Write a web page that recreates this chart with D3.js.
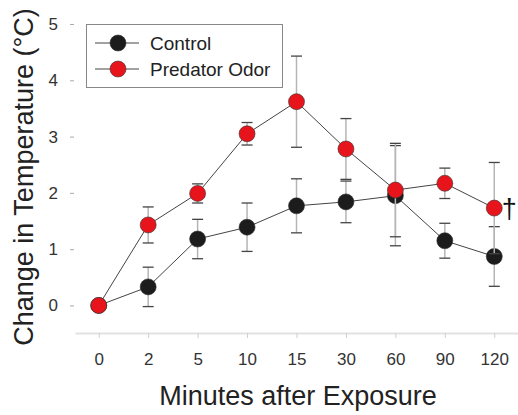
<!DOCTYPE html>
<html>
<head>
<meta charset="utf-8">
<script src="https://cdn.jsdelivr.net/npm/d3@7"></script>
<style>
  body { margin: 0; background: #fff; }
  svg { font-family: "Liberation Sans", Arial, sans-serif; }
</style>
</head>
<body>
<div id="chart"></div>
<script>
// categories (minutes after exposure)
var minutes = ["0", "2", "5", "10", "15", "30", "60", "90", "120"];

// series means and errors
var controlMean = [0, 0.33, 1.18, 1.39, 1.77, 1.84, 1.95, 1.15, 0.87];
var controlErr  = [0, 0.35, 0.35, 0.43, 0.48, 0.37, 0.89, 0.31, 0.53];
var predatorMean = [0, 1.43, 1.99, 3.05, 3.62, 2.78, 2.05, 2.17, 1.73];
var predatorErr  = [0, 0.32, 0.17, 0.2, 0.81, 0.54, 0.83, 0.27, 0.81];

var yTicks = [0, 1, 2, 3, 4, 5];

var series = [
  { name: "Control", mean: controlMean, err: controlErr, fill: "#1c1c1c" },
  { name: "Predator Odor", mean: predatorMean, err: predatorErr, fill: "#e8141c" }
];

var width = 518, height = 415;

var svg = d3.select("#chart")
  .append("svg")
  .attr("width", width)
  .attr("height", height);

var x = d3.scalePoint().domain(minutes).range([75, 518]).padding(0.48);
var y = d3.scaleLinear().domain([-0.5, 5]).range([333.6, 24]);

// x axis
var xAxis = svg.append("g")
  .attr("transform", "translate(0,333)")
  .call(d3.axisBottom(x).tickSize(5).tickSizeOuter(0).tickPadding(15));
xAxis.select(".domain").attr("stroke", "#e2e2e2").attr("stroke-width", 2);
xAxis.selectAll(".tick line").attr("stroke", "#cfcfcf");
xAxis.selectAll(".tick text")
  .attr("fill", "#333")
  .style("font-size", "17px");

// y axis
var yAxis = svg.append("g")
  .attr("transform", "translate(74,0)")
  .call(d3.axisLeft(y).tickValues(yTicks).tickFormat(d3.format("d")).tickSize(4).tickPadding(12));
yAxis.select(".domain").remove();
yAxis.selectAll(".tick line").attr("stroke", "#aaa");
yAxis.selectAll(".tick text")
  .attr("fill", "#333")
  .style("font-size", "17px");

// axis titles
svg.append("text")
  .attr("x", 298)
  .attr("y", 405)
  .attr("text-anchor", "middle")
  .attr("fill", "#222")
  .style("font-size", "27px")
  .text("Minutes after Exposure");

svg.append("text")
  .attr("transform", "translate(33,177) rotate(-90)")
  .attr("text-anchor", "middle")
  .attr("fill", "#222")
  .style("font-size", "27px")
  .text("Change in Temperature (°C)");

var line = d3.line()
  .x(function (d, i) { return x(minutes[i]); })
  .y(function (d) { return y(d); });

series.forEach(function (s) {
  var g = svg.append("g").attr("class", "series");

  // error bars
  var eb = g.selectAll(".err")
    .data(s.mean.map(function (m, i) { return { m: m, e: s.err[i], k: minutes[i] }; })
      .filter(function (d) { return d.e > 0; }))
    .enter()
    .append("g");
  eb.append("line")
    .attr("x1", function (d) { return x(d.k); })
    .attr("x2", function (d) { return x(d.k); })
    .attr("y1", function (d) { return y(d.m - d.e); })
    .attr("y2", function (d) { return y(d.m + d.e); })
    .attr("stroke", "#b5b5b5")
    .attr("stroke-width", 1.5);
  [-1, 1].forEach(function (sgn) {
    eb.append("line")
      .attr("x1", function (d) { return x(d.k) - 5.5; })
      .attr("x2", function (d) { return x(d.k) + 5.5; })
      .attr("y1", function (d) { return y(d.m + sgn * d.e); })
      .attr("y2", function (d) { return y(d.m + sgn * d.e); })
      .attr("stroke", "#444")
      .attr("stroke-width", 1.3);
  });

  g.append("path")
    .datum(s.mean)
    .attr("d", line)
    .attr("fill", "none")
    .attr("stroke", "#444")
    .attr("stroke-width", 1);

  g.selectAll("circle")
    .data(s.mean)
    .enter()
    .append("circle")
    .attr("cx", function (d, i) { return x(minutes[i]); })
    .attr("cy", function (d) { return y(d); })
    .attr("r", 8)
    .attr("fill", s.fill)
    .attr("stroke", "#333")
    .attr("stroke-width", 0.6);
});

// significance dagger
svg.append("text")
  .attr("x", x("120") + 15)
  .attr("y", y(predatorMean[8]) + 10)
  .attr("text-anchor", "middle")
  .attr("fill", "#111")
  .style("font-size", "27px")
  .text("†");

// legend
var legend = svg.append("g").attr("class", "legend");
legend.append("rect")
  .attr("x", 86.5)
  .attr("y", 24.5)
  .attr("width", 196)
  .attr("height", 63)
  .attr("fill", "#fff")
  .attr("stroke", "#888")
  .attr("stroke-width", 1);

series.forEach(function (s, i) {
  var ly = 43 + i * 26;
  legend.append("line")
    .attr("x1", 95).attr("x2", 139)
    .attr("y1", ly).attr("y2", ly)
    .attr("stroke", "#444").attr("stroke-width", 1);
  legend.append("circle")
    .attr("cx", 118).attr("cy", ly).attr("r", 8)
    .attr("fill", s.fill)
    .attr("stroke", "#333").attr("stroke-width", 0.6);
  legend.append("text")
    .attr("x", 150).attr("y", ly + 7)
    .attr("fill", "#222")
    .style("font-size", "19px")
    .text(s.name);
});
</script>
</body>
</html>
